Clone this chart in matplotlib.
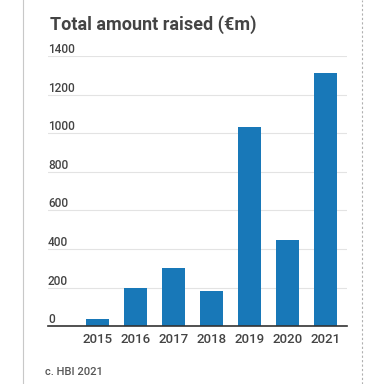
import matplotlib.pyplot as plt
import matplotlib.transforms as mtransforms
from matplotlib.lines import Line2D

plt.rcParams['font.family'] = ['Roboto', 'DejaVu Sans']

years = ["2015", "2016", "2017", "2018", "2019", "2020", "2021"]
raised = [35, 200, 300, 180, 1035, 447, 1313]
yticks = [0, 200, 400, 600, 800, 1000, 1200, 1400]

fig = plt.figure(figsize=(3.84, 3.84), dpi=100)
ax = fig.add_axes([0.125, 0.151, 0.779, 0.702])

ax.bar(range(len(years)), raised, width=0.6, color='#1878b8', zorder=3)
ax.set_xlim(-1.3, 6.57)
ax.set_ylim(0, 1400)

ax.set_xticks(range(len(years)))
ax.set_xticklabels(years, fontsize=9.5, color='#444444', fontweight='medium')
ax.tick_params(axis='x', length=0, pad=5)
ax.set_yticks(yticks)
ax.set_yticklabels([])
ax.tick_params(axis='y', length=0)
ax.grid(axis='y', color='#e3e3e3', linewidth=0.8, zorder=0)
ax.set_axisbelow(True)

for s in ['top', 'right', 'left']:
    ax.spines[s].set_visible(False)
ax.spines['bottom'].set_color('#333333')
ax.spines['bottom'].set_linewidth(1.2)
ax.spines['bottom'].set_zorder(4)

# y labels sit above the gridlines, inside the plot
trans = mtransforms.blended_transform_factory(ax.transAxes, ax.transData)
for v in yticks:
    ax.text(0.0, v, str(v), transform=trans, ha='left', va='bottom',
            fontsize=8.5, color='#444444', fontweight='medium')

fig.text(0.13, 0.935, "Total amount raised (€m)", fontsize=13, fontweight='bold',
         color='#444444', va='center')
fig.text(0.117, 0.03, "c. HBI 2021", fontsize=8, color='#555555', va='center',
         fontweight='medium')

# panel borders
fig.add_artist(Line2D([0.06, 0.06], [0, 1], color='#c8c8c8', linewidth=0.8))
fig.add_artist(Line2D([0.943, 0.943], [0, 1], color='#b0b0b0', linewidth=0.8,
                      linestyle=(0, (2, 2))))

fig.savefig("out.png", dpi=100)
